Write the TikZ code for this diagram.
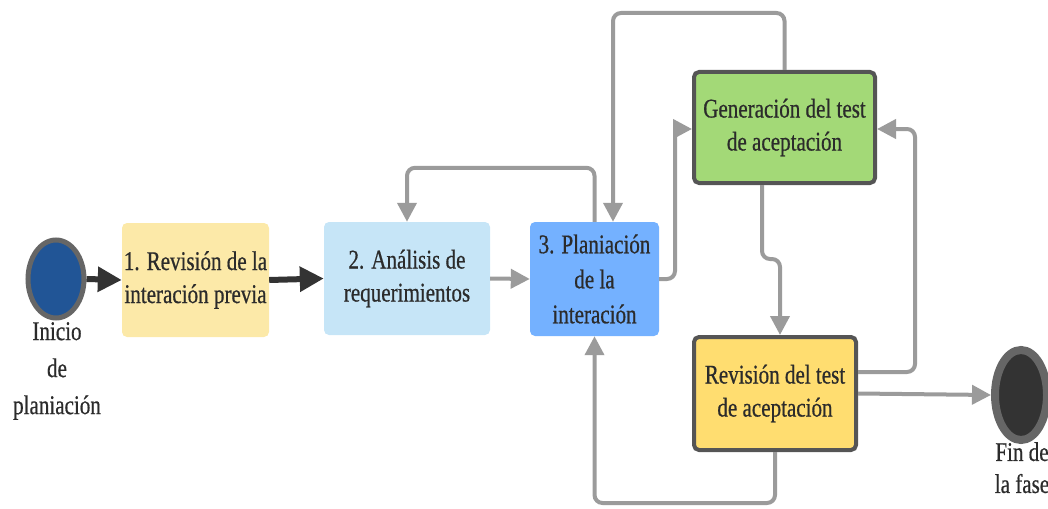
\documentclass[tikz,border=0pt]{standalone}
\usepackage{fontspec}
\setmainfont{Liberation Serif}[FakeStretch=0.78,FakeBold=0.6]
\usetikzlibrary{arrows.meta,shapes.geometric,calc}
\definecolor{txt}{HTML}{2B2B2B}
\definecolor{lgray}{HTML}{9B9B9B}
\definecolor{dgray}{HTML}{333333}
\definecolor{ring}{HTML}{666666}
\definecolor{boxa}{HTML}{FCE9A8}
\definecolor{boxb}{HTML}{C6E5F7}
\definecolor{boxc}{HTML}{74B1FF}
\definecolor{boxd}{HTML}{A3D977}
\definecolor{boxe}{HTML}{FFDD70}
\definecolor{bord}{HTML}{555555}
\tikzset{
  txtfont/.style={font=\fontsize{27}{33}\selectfont, text=txt, align=center},
  plainbox/.style={txtfont, rectangle, rounded corners=5, inner sep=0pt},
  strongbox/.style={txtfont, rectangle, rounded corners=5, inner sep=0pt, draw=bord, line width=4},
  blackarrow/.style={draw=dgray, line width=6, -{Triangle[length=24,width=24]}},
  grayarrow/.style={draw=lgray, line width=4, rounded corners=8, -{Triangle[length=19,width=19]}},
  label/.style={txtfont, inner sep=0pt}
}
\begin{document}
\begin{tikzpicture}[x=1pt,y=-1pt]
\useasboundingbox (0,0) rectangle (1048,508);
% nodes
\node[ellipse, draw=ring, line width=5, fill={rgb,255:red,33;green,85;blue,150}, minimum width=56, minimum height=78, inner sep=0pt] (start) at (56,279) {};
\node[ellipse, draw=ring, line width=8, fill=dgray, minimum width=52, minimum height=90, inner sep=0pt] (end) at (1021,395) {};
\node[plainbox, fill=boxa, minimum width=147, minimum height=114] (b1) at (195.5,280) {1. Revisión de la\\interación previa};
\node[plainbox, fill=boxb, minimum width=166, minimum height=113] (b2) at (407,278.5) {2. Análisis de\\requerimientos};
\node[plainbox, fill=boxc, minimum width=129, minimum height=114, font=\fontsize{27}{35}\selectfont] (b3) at (594.5,279) {3. Planiación\\de la\\interación};
\node[strongbox, fill=boxd, minimum width=181, minimum height=111] (gen) at (784.5,127.5) {Generación del test\\de aceptación};
\node[strongbox, fill=boxe, minimum width=162, minimum height=113] (rev) at (775,393.5) {Revisión del test\\de aceptación};
\node[label, anchor=north, font=\fontsize{27}{37}\selectfont] (lstart) at (57,322) {Inicio\\de\\planiación};
\node[label, anchor=north, font=\fontsize{27}{32}\selectfont] (lend) at (1022,442) {Fin de\\la fase};
% connectors
\draw[blackarrow] (start.east) -- (b1.west);
\draw[blackarrow] (b1.west -| b1.east) -- (b2.west);
\draw[grayarrow] (b2.east) -- (b3.west);
\draw[grayarrow] (b3.north) -- ++(0,-54) -| (b2.north);
\draw[grayarrow] (gen.north) -- ++(0,-57) -| ($(b3.north)+(18.5,0)$);
\draw[grayarrow] (b3.east) -| (675,129) -- (gen.west |- 0,129);
\draw[grayarrow] ($(gen.south)+(-22.5,0)$) -- ++(0,74) -| ($(rev.north)+(5,0)$);
\draw[grayarrow] ($(rev.east)+(0,-21.5)$) -| (915,129) -- (gen.east |- 0,129);
\draw[grayarrow] (rev.east) -- (end.west);
\draw[grayarrow] (rev.south) -- ++(0,51) -| (b3.south);
\end{tikzpicture}
\end{document}
